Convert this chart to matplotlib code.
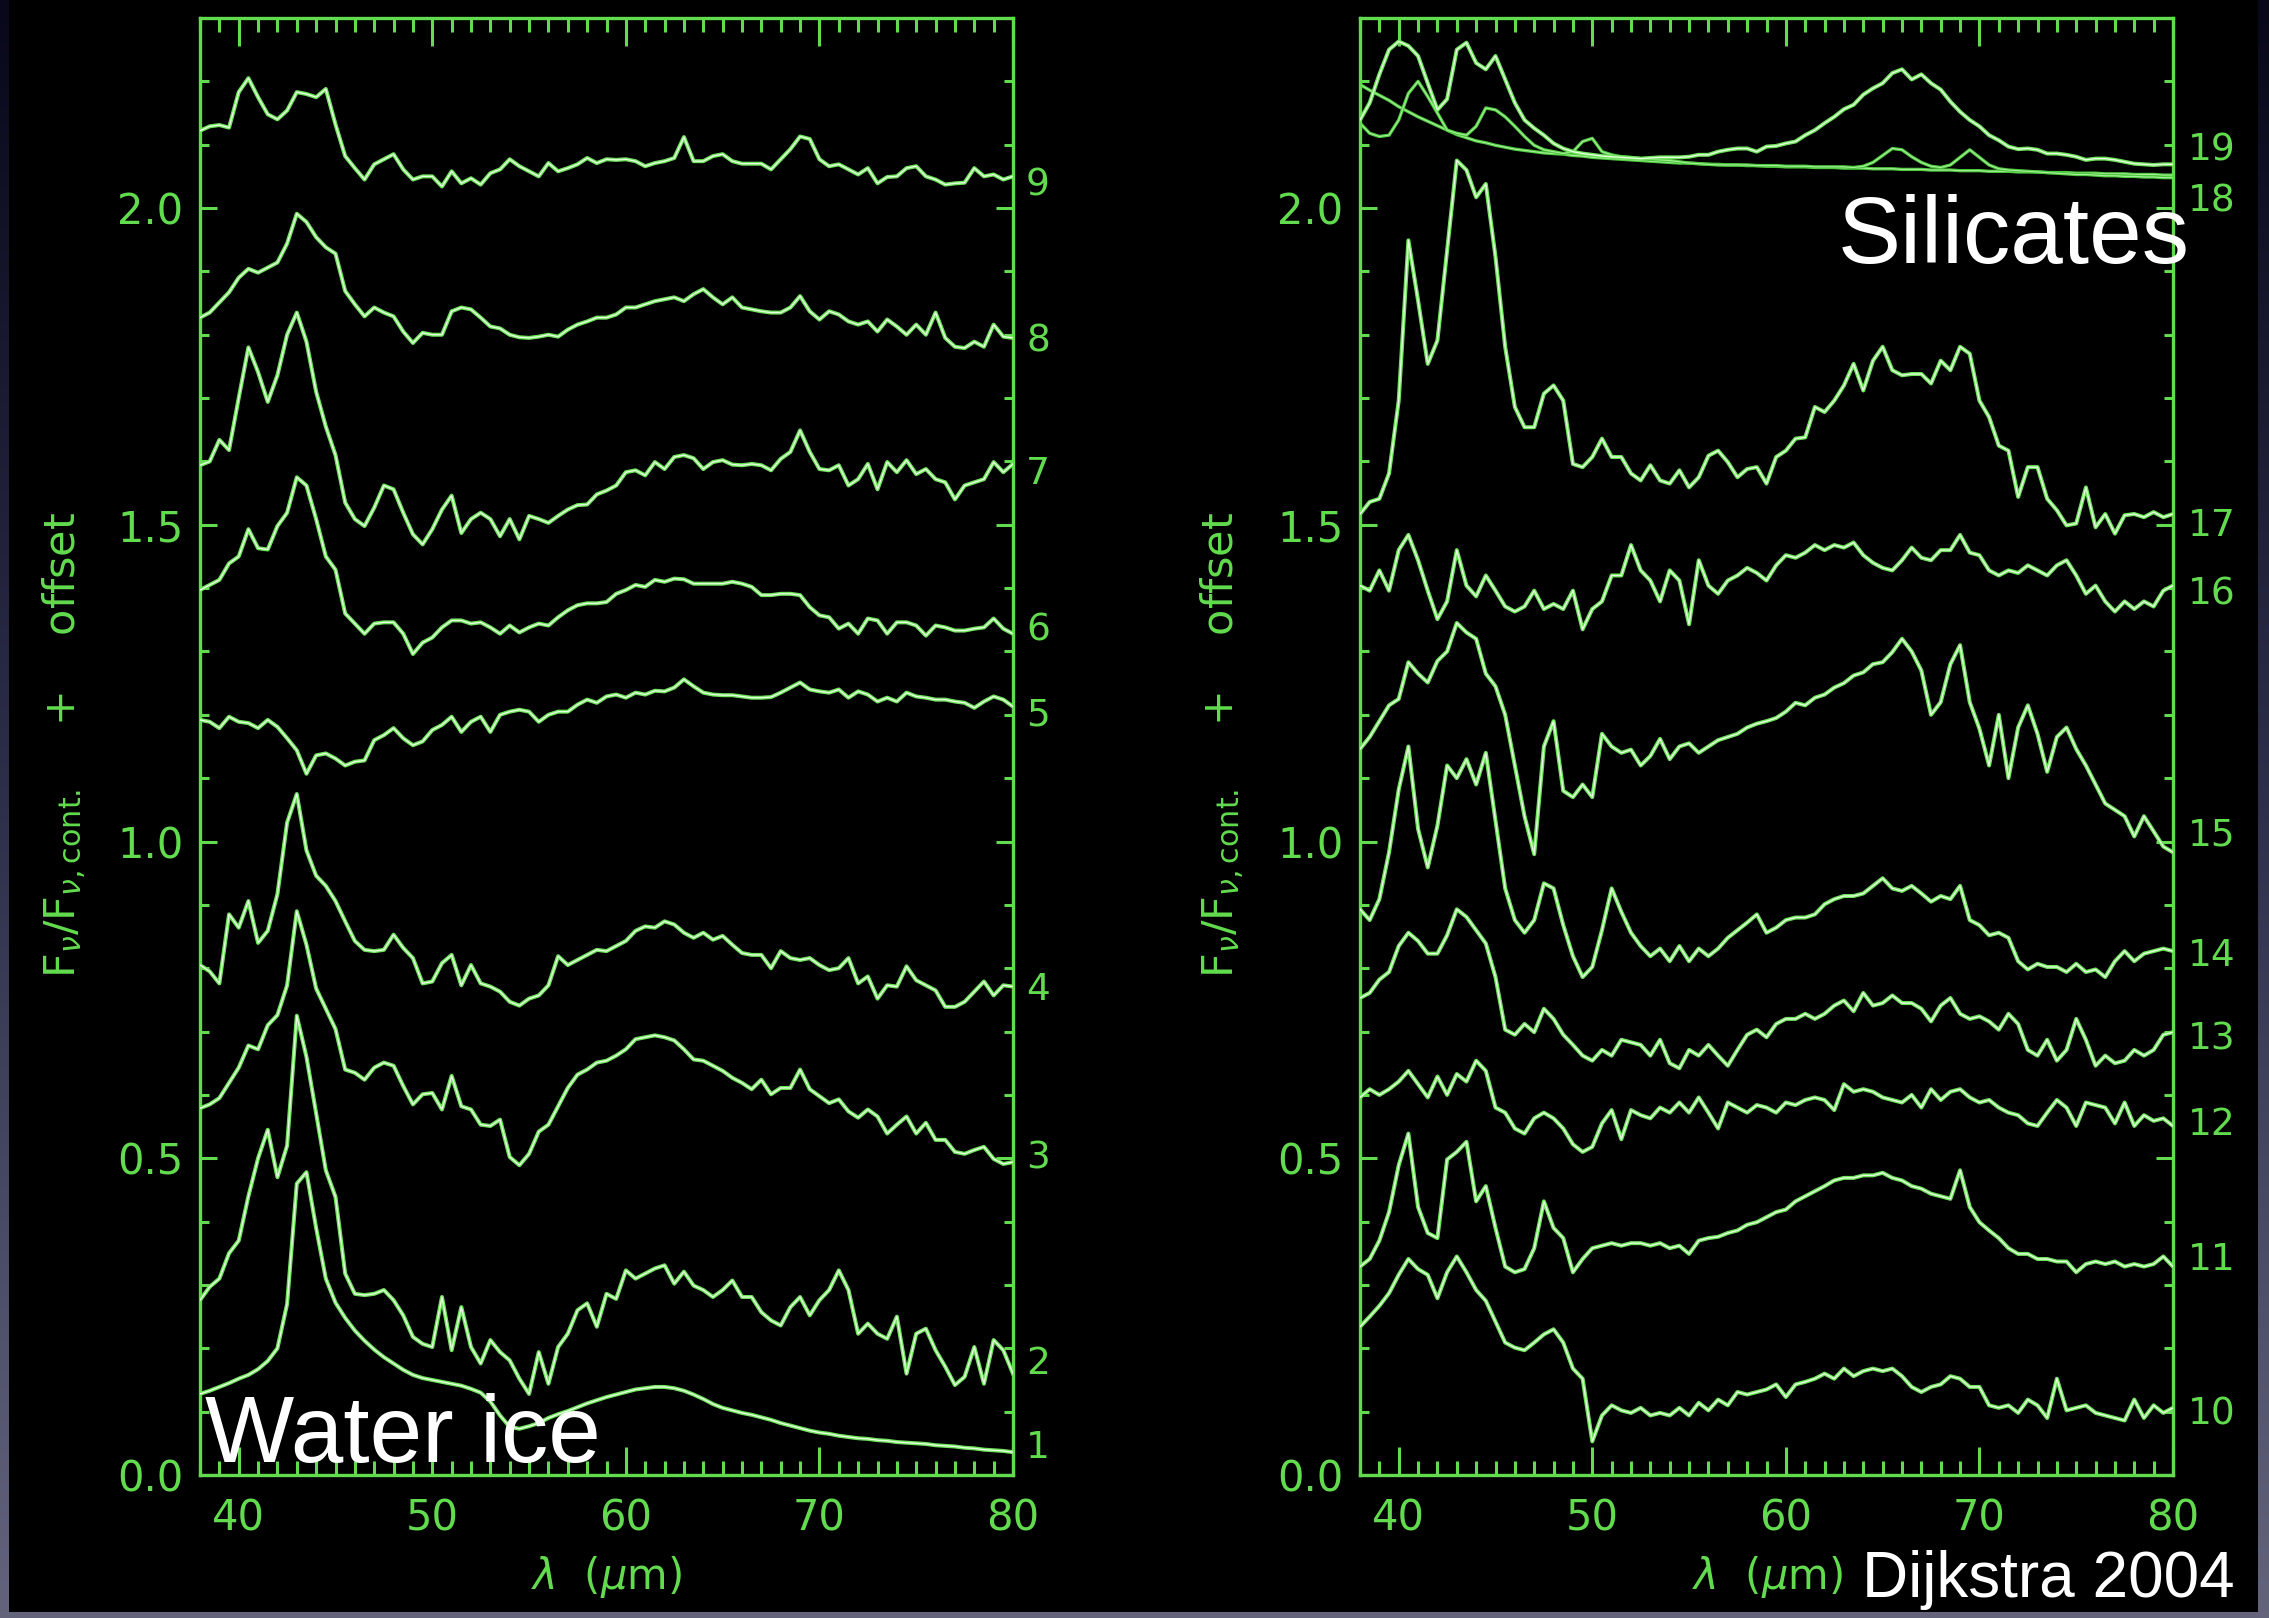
import numpy as np
import matplotlib
matplotlib.use("Agg")
import matplotlib.pyplot as plt
from matplotlib.patches import Rectangle
from matplotlib.colors import LinearSegmentedColormap
from matplotlib.ticker import MultipleLocator, FormatStrFormatter
import matplotlib.transforms as mtransforms

# wavelength sampling (micron), 38 .. 80 in 0.5 steps
wave = np.arange(38.0, 80.01, 0.5)

# ---- left panel: spectra 1-9 ----
spec1 = [0.128, 0.133, 0.139, 0.145, 0.152, 0.158, 0.167, 0.180, 0.200, 0.270,
         0.460, 0.478, 0.390, 0.310, 0.272, 0.248, 0.228, 0.212, 0.198, 0.186,
         0.176, 0.166, 0.158, 0.153, 0.150, 0.147, 0.144, 0.141, 0.136, 0.130,
         0.116, 0.094, 0.076, 0.073, 0.077, 0.082, 0.090, 0.096, 0.101, 0.107,
         0.113, 0.118, 0.123, 0.127, 0.131, 0.135, 0.137, 0.139, 0.139, 0.137,
         0.133, 0.127, 0.120, 0.112, 0.106, 0.102, 0.098, 0.095, 0.091, 0.087,
         0.082, 0.078, 0.074, 0.070, 0.067, 0.065, 0.062, 0.060, 0.058, 0.057,
         0.055, 0.054, 0.052, 0.051, 0.050, 0.049, 0.047, 0.046, 0.045, 0.043,
         0.042, 0.040, 0.039, 0.038, 0.036]
spec2 = [0.276, 0.297, 0.310, 0.350, 0.370, 0.440, 0.500, 0.545, 0.470, 0.520,
         0.725, 0.660, 0.571, 0.481, 0.439, 0.318, 0.286, 0.284, 0.286, 0.292,
         0.276, 0.252, 0.218, 0.207, 0.202, 0.281, 0.197, 0.265, 0.202, 0.176,
         0.213, 0.194, 0.181, 0.152, 0.128, 0.194, 0.144, 0.202, 0.223, 0.260,
         0.271, 0.234, 0.286, 0.278, 0.323, 0.310, 0.318, 0.326, 0.331, 0.302,
         0.321, 0.299, 0.292, 0.281, 0.292, 0.307, 0.281, 0.281, 0.257, 0.244,
         0.236, 0.265, 0.281, 0.252, 0.276, 0.292, 0.323, 0.292, 0.223, 0.239,
         0.223, 0.215, 0.250, 0.160, 0.223, 0.231, 0.197, 0.171, 0.142, 0.155,
         0.202, 0.144, 0.213, 0.197, 0.160]
spec3 = [0.579, 0.585, 0.595, 0.619, 0.643, 0.678, 0.672, 0.710, 0.726, 0.773,
         0.890, 0.837, 0.768, 0.736, 0.704, 0.640, 0.635, 0.624, 0.643, 0.651,
         0.646, 0.614, 0.585, 0.601, 0.603, 0.577, 0.630, 0.582, 0.577, 0.553,
         0.551, 0.561, 0.502, 0.489, 0.507, 0.542, 0.553, 0.582, 0.611, 0.632,
         0.640, 0.651, 0.654, 0.662, 0.672, 0.688, 0.691, 0.694, 0.691, 0.686,
         0.672, 0.656, 0.654, 0.646, 0.638, 0.627, 0.619, 0.609, 0.624, 0.601,
         0.611, 0.611, 0.640, 0.609, 0.598, 0.587, 0.593, 0.574, 0.564, 0.577,
         0.566, 0.539, 0.553, 0.566, 0.539, 0.556, 0.529, 0.529, 0.510, 0.507,
         0.513, 0.518, 0.499, 0.491, 0.494]
spec4 = [0.805, 0.795, 0.776, 0.885, 0.864, 0.906, 0.840, 0.859, 0.917, 1.030,
         1.075, 0.986, 0.946, 0.930, 0.906, 0.874, 0.843, 0.829, 0.827, 0.829,
         0.853, 0.832, 0.816, 0.776, 0.779, 0.808, 0.821, 0.773, 0.805, 0.776,
         0.771, 0.763, 0.747, 0.741, 0.752, 0.757, 0.773, 0.819, 0.805, 0.813,
         0.821, 0.829, 0.827, 0.835, 0.843, 0.859, 0.866, 0.864, 0.874, 0.869,
         0.856, 0.848, 0.856, 0.845, 0.851, 0.837, 0.824, 0.821, 0.821, 0.800,
         0.827, 0.816, 0.813, 0.816, 0.805, 0.797, 0.800, 0.816, 0.776, 0.787,
         0.752, 0.773, 0.771, 0.803, 0.781, 0.773, 0.765, 0.739, 0.739, 0.747,
         0.763, 0.779, 0.757, 0.773, 0.771]
spec5 = [1.192, 1.189, 1.179, 1.197, 1.189, 1.187, 1.179, 1.192, 1.181, 1.163,
         1.144, 1.107, 1.136, 1.139, 1.131, 1.120, 1.126, 1.128, 1.160, 1.168,
         1.179, 1.163, 1.152, 1.158, 1.176, 1.184, 1.197, 1.173, 1.189, 1.197,
         1.173, 1.200, 1.205, 1.208, 1.205, 1.189, 1.200, 1.205, 1.205, 1.216,
         1.224, 1.219, 1.229, 1.232, 1.227, 1.235, 1.232, 1.238, 1.237, 1.243,
         1.256, 1.245, 1.235, 1.232, 1.231, 1.231, 1.229, 1.227, 1.227, 1.228,
         1.235, 1.243, 1.251, 1.240, 1.237, 1.235, 1.240, 1.227, 1.237, 1.232,
         1.221, 1.227, 1.221, 1.235, 1.229, 1.227, 1.224, 1.224, 1.221, 1.219,
         1.211, 1.221, 1.229, 1.224, 1.213]
spec6 = [1.397, 1.405, 1.413, 1.439, 1.450, 1.493, 1.463, 1.461, 1.498, 1.519,
         1.575, 1.562, 1.509, 1.450, 1.429, 1.360, 1.344, 1.328, 1.344, 1.346,
         1.346, 1.328, 1.296, 1.314, 1.322, 1.338, 1.349, 1.349, 1.344, 1.346,
         1.338, 1.328, 1.341, 1.330, 1.338, 1.344, 1.341, 1.354, 1.365, 1.373,
         1.376, 1.376, 1.378, 1.391, 1.397, 1.405, 1.402, 1.413, 1.410, 1.415,
         1.414, 1.407, 1.407, 1.407, 1.407, 1.410, 1.407, 1.402, 1.389, 1.389,
         1.391, 1.391, 1.389, 1.370, 1.357, 1.354, 1.336, 1.344, 1.328, 1.352,
         1.349, 1.328, 1.346, 1.346, 1.341, 1.325, 1.341, 1.338, 1.333, 1.333,
         1.336, 1.338, 1.352, 1.336, 1.328]
spec7 = [1.594, 1.600, 1.634, 1.618, 1.700, 1.780, 1.741, 1.694, 1.736, 1.800,
         1.835, 1.789, 1.710, 1.655, 1.610, 1.535, 1.509, 1.498, 1.527, 1.562,
         1.556, 1.519, 1.485, 1.469, 1.493, 1.524, 1.546, 1.487, 1.509, 1.519,
         1.509, 1.482, 1.509, 1.477, 1.514, 1.509, 1.503, 1.514, 1.524, 1.531,
         1.532, 1.548, 1.554, 1.562, 1.583, 1.586, 1.578, 1.599, 1.588, 1.607,
         1.610, 1.605, 1.588, 1.599, 1.602, 1.595, 1.594, 1.596, 1.594, 1.586,
         1.604, 1.615, 1.649, 1.615, 1.588, 1.586, 1.594, 1.562, 1.572, 1.596,
         1.556, 1.599, 1.583, 1.602, 1.580, 1.588, 1.572, 1.567, 1.540, 1.562,
         1.567, 1.572, 1.599, 1.583, 1.596]
spec8 = [1.827, 1.835, 1.851, 1.867, 1.890, 1.904, 1.898, 1.906, 1.914, 1.944,
         1.991, 1.978, 1.954, 1.938, 1.928, 1.869, 1.848, 1.829, 1.843, 1.835,
         1.829, 1.805, 1.787, 1.803, 1.800, 1.800, 1.837, 1.843, 1.840, 1.827,
         1.813, 1.810, 1.800, 1.796, 1.795, 1.797, 1.800, 1.797, 1.808, 1.816,
         1.821, 1.827, 1.827, 1.832, 1.843, 1.843, 1.848, 1.853, 1.856, 1.859,
         1.853, 1.864, 1.872, 1.859, 1.848, 1.859, 1.843, 1.840, 1.837, 1.835,
         1.835, 1.843, 1.861, 1.837, 1.824, 1.837, 1.832, 1.821, 1.816, 1.821,
         1.805, 1.824, 1.813, 1.800, 1.816, 1.800, 1.835, 1.795, 1.781, 1.779,
         1.789, 1.781, 1.816, 1.797, 1.795]
spec9 = [2.122, 2.129, 2.131, 2.127, 2.183, 2.205, 2.175, 2.148, 2.140, 2.154,
         2.183, 2.180, 2.175, 2.188, 2.132, 2.082, 2.063, 2.045, 2.069, 2.077,
         2.085, 2.061, 2.045, 2.050, 2.050, 2.034, 2.058, 2.039, 2.047, 2.037,
         2.055, 2.061, 2.077, 2.066, 2.058, 2.050, 2.071, 2.058, 2.063, 2.069,
         2.079, 2.071, 2.077, 2.076, 2.077, 2.074, 2.066, 2.071, 2.074, 2.079,
         2.112, 2.074, 2.074, 2.082, 2.085, 2.074, 2.070, 2.070, 2.070, 2.061,
         2.077, 2.093, 2.113, 2.109, 2.077, 2.066, 2.069, 2.061, 2.053, 2.063,
         2.039, 2.049, 2.050, 2.063, 2.066, 2.050, 2.045, 2.037, 2.039, 2.040,
         2.063, 2.050, 2.053, 2.045, 2.050]

# ---- right panel: spectra 10-19 and the silicate continuum ----
spec10 = [0.234, 0.250, 0.267, 0.287, 0.316, 0.341, 0.325, 0.316, 0.279, 0.320,
          0.345, 0.320, 0.292, 0.275, 0.242, 0.209, 0.201, 0.197, 0.209, 0.222,
          0.230, 0.209, 0.168, 0.152, 0.053, 0.094, 0.110, 0.102, 0.098, 0.106,
          0.094, 0.098, 0.094, 0.106, 0.094, 0.114, 0.102, 0.119, 0.110, 0.131,
          0.127, 0.131, 0.135, 0.143, 0.123, 0.143, 0.147, 0.152, 0.160, 0.152,
          0.168, 0.156, 0.164, 0.168, 0.164, 0.168, 0.156, 0.139, 0.131, 0.139,
          0.143, 0.156, 0.152, 0.139, 0.139, 0.110, 0.106, 0.110, 0.098, 0.119,
          0.110, 0.090, 0.152, 0.102, 0.106, 0.110, 0.098, 0.094, 0.090, 0.086,
          0.119, 0.090, 0.110, 0.098, 0.106]
spec11 = [0.329, 0.341, 0.370, 0.415, 0.489, 0.539, 0.423, 0.382, 0.374, 0.498,
          0.510, 0.526, 0.432, 0.456, 0.390, 0.329, 0.320, 0.325, 0.358, 0.432,
          0.390, 0.374, 0.320, 0.341, 0.358, 0.362, 0.366, 0.362, 0.366, 0.366,
          0.362, 0.366, 0.358, 0.362, 0.349, 0.370, 0.374, 0.376, 0.382, 0.386,
          0.395, 0.399, 0.407, 0.415, 0.419, 0.432, 0.440, 0.448, 0.456, 0.465,
          0.469, 0.469, 0.473, 0.473, 0.477, 0.469, 0.465, 0.456, 0.452, 0.444,
          0.440, 0.436, 0.481, 0.423, 0.399, 0.386, 0.374, 0.358, 0.349, 0.349,
          0.341, 0.341, 0.337, 0.337, 0.320, 0.333, 0.337, 0.333, 0.337, 0.329,
          0.333, 0.329, 0.333, 0.345, 0.329]
spec12 = [0.596, 0.609, 0.600, 0.609, 0.621, 0.638, 0.617, 0.596, 0.629, 0.600,
          0.633, 0.621, 0.654, 0.638, 0.580, 0.572, 0.547, 0.539, 0.563, 0.572,
          0.563, 0.547, 0.522, 0.510, 0.518, 0.555, 0.576, 0.530, 0.576, 0.568,
          0.563, 0.580, 0.572, 0.588, 0.572, 0.596, 0.572, 0.547, 0.588, 0.580,
          0.572, 0.584, 0.580, 0.572, 0.588, 0.584, 0.592, 0.596, 0.592, 0.576,
          0.617, 0.605, 0.609, 0.605, 0.596, 0.592, 0.588, 0.600, 0.580, 0.609,
          0.592, 0.605, 0.609, 0.596, 0.588, 0.592, 0.580, 0.572, 0.568, 0.555,
          0.551, 0.572, 0.592, 0.580, 0.551, 0.588, 0.584, 0.580, 0.555, 0.588,
          0.551, 0.568, 0.559, 0.563, 0.551]
spec13 = [0.753, 0.761, 0.782, 0.794, 0.835, 0.856, 0.843, 0.823, 0.823, 0.852,
          0.893, 0.881, 0.860, 0.839, 0.786, 0.703, 0.695, 0.712, 0.699, 0.736,
          0.720, 0.695, 0.679, 0.662, 0.654, 0.671, 0.662, 0.687, 0.683, 0.679,
          0.662, 0.687, 0.650, 0.642, 0.671, 0.662, 0.679, 0.662, 0.646, 0.671,
          0.695, 0.703, 0.691, 0.712, 0.720, 0.720, 0.728, 0.720, 0.728, 0.741,
          0.749, 0.732, 0.761, 0.741, 0.745, 0.757, 0.745, 0.745, 0.736, 0.716,
          0.741, 0.753, 0.728, 0.720, 0.724, 0.716, 0.703, 0.728, 0.712, 0.671,
          0.662, 0.687, 0.654, 0.671, 0.720, 0.687, 0.646, 0.662, 0.650, 0.654,
          0.671, 0.662, 0.671, 0.695, 0.699]
spec14 = [0.893, 0.876, 0.909, 0.983, 1.082, 1.150, 1.020, 0.959, 1.025, 1.120,
          1.100, 1.130, 1.090, 1.140, 1.033, 0.926, 0.876, 0.856, 0.876, 0.934,
          0.926, 0.868, 0.819, 0.786, 0.802, 0.860, 0.926, 0.889, 0.856, 0.835,
          0.819, 0.831, 0.811, 0.835, 0.811, 0.831, 0.819, 0.831, 0.848, 0.860,
          0.872, 0.885, 0.856, 0.864, 0.876, 0.880, 0.880, 0.885, 0.901, 0.909,
          0.914, 0.914, 0.918, 0.930, 0.942, 0.926, 0.922, 0.930, 0.918, 0.905,
          0.914, 0.909, 0.930, 0.876, 0.868, 0.852, 0.856, 0.848, 0.811, 0.798,
          0.807, 0.802, 0.802, 0.794, 0.807, 0.794, 0.798, 0.786, 0.811, 0.827,
          0.811, 0.823, 0.827, 0.831, 0.827]
spec15 = [1.146, 1.165, 1.190, 1.215, 1.225, 1.283, 1.265, 1.251, 1.285, 1.300,
          1.345, 1.330, 1.320, 1.265, 1.245, 1.200, 1.120, 1.040, 0.980, 1.150,
          1.190, 1.080, 1.070, 1.090, 1.070, 1.170, 1.150, 1.140, 1.145, 1.120,
          1.135, 1.162, 1.130, 1.150, 1.155, 1.140, 1.150, 1.160, 1.165, 1.170,
          1.180, 1.186, 1.190, 1.195, 1.205, 1.219, 1.215, 1.227, 1.232, 1.243,
          1.250, 1.262, 1.267, 1.280, 1.283, 1.299, 1.320, 1.300, 1.270, 1.200,
          1.220, 1.280, 1.310, 1.220, 1.178, 1.120, 1.200, 1.100, 1.180, 1.215,
          1.170, 1.110, 1.165, 1.180, 1.146, 1.120, 1.090, 1.060, 1.050, 1.040,
          1.008, 1.040, 1.016, 0.992, 0.983]
spec16 = [1.404, 1.396, 1.428, 1.396, 1.460, 1.484, 1.444, 1.396, 1.351, 1.379,
          1.460, 1.404, 1.387, 1.420, 1.396, 1.371, 1.363, 1.371, 1.396, 1.367,
          1.375, 1.367, 1.396, 1.335, 1.367, 1.379, 1.420, 1.420, 1.468, 1.428,
          1.412, 1.379, 1.428, 1.412, 1.343, 1.444, 1.404, 1.391, 1.412, 1.420,
          1.432, 1.424, 1.412, 1.436, 1.452, 1.448, 1.456, 1.468, 1.460, 1.468,
          1.464, 1.472, 1.452, 1.440, 1.432, 1.428, 1.444, 1.464, 1.448, 1.444,
          1.460, 1.460, 1.484, 1.456, 1.452, 1.428, 1.420, 1.428, 1.424, 1.436,
          1.428, 1.420, 1.436, 1.444, 1.420, 1.391, 1.404, 1.379, 1.363, 1.379,
          1.367, 1.379, 1.371, 1.396, 1.404]
spec17 = [1.517, 1.536, 1.541, 1.581, 1.696, 1.949, 1.854, 1.754, 1.791, 1.933,
          2.075, 2.060, 2.017, 2.038, 1.923, 1.781, 1.686, 1.654, 1.654, 1.707,
          1.720, 1.696, 1.596, 1.591, 1.607, 1.636, 1.607, 1.607, 1.581, 1.570,
          1.594, 1.570, 1.565, 1.586, 1.559, 1.575, 1.609, 1.617, 1.599, 1.575,
          1.588, 1.591, 1.565, 1.607, 1.617, 1.636, 1.638, 1.686, 1.678, 1.696,
          1.720, 1.754, 1.712, 1.759, 1.781, 1.744, 1.736, 1.738, 1.738, 1.723,
          1.759, 1.744, 1.781, 1.770, 1.696, 1.670, 1.625, 1.617, 1.544, 1.591,
          1.591, 1.541, 1.523, 1.499, 1.502, 1.559, 1.496, 1.517, 1.486, 1.515,
          1.517, 1.512, 1.520, 1.512, 1.517]
spec18 = [2.134, 2.118, 2.113, 2.115, 2.139, 2.181, 2.200, 2.176, 2.150, 2.123,
          2.118, 2.115, 2.129, 2.158, 2.155, 2.144, 2.129, 2.113, 2.099, 2.092,
          2.089, 2.086, 2.089, 2.105, 2.110, 2.089, 2.084, 2.081, 2.080, 2.078,
          2.077, 2.076, 2.075, 2.073, 2.071, 2.070, 2.069, 2.068, 2.068, 2.068,
          2.068, 2.067, 2.067, 2.067, 2.066, 2.066, 2.066, 2.065, 2.065, 2.065,
          2.065, 2.064, 2.066, 2.072, 2.083, 2.094, 2.092, 2.081, 2.072, 2.066,
          2.064, 2.068, 2.080, 2.092, 2.080, 2.068, 2.062, 2.060, 2.059, 2.058,
          2.057, 2.056, 2.055, 2.054, 2.053, 2.053, 2.052, 2.051, 2.051, 2.050,
          2.050, 2.049, 2.049, 2.048, 2.048]
spec19 = [2.139, 2.166, 2.211, 2.250, 2.263, 2.256, 2.240, 2.197, 2.155, 2.172,
          2.250, 2.261, 2.229, 2.219, 2.240, 2.203, 2.166, 2.139, 2.126, 2.115,
          2.102, 2.094, 2.089, 2.086, 2.084, 2.082, 2.081, 2.080, 2.079, 2.078,
          2.079, 2.080, 2.080, 2.080, 2.081, 2.084, 2.084, 2.089, 2.092, 2.094,
          2.094, 2.089, 2.097, 2.098, 2.102, 2.105, 2.115, 2.123, 2.134, 2.144,
          2.156, 2.163, 2.179, 2.189, 2.197, 2.213, 2.219, 2.203, 2.211, 2.197,
          2.187, 2.168, 2.152, 2.139, 2.129, 2.115, 2.107, 2.097, 2.093, 2.094,
          2.092, 2.086, 2.086, 2.084, 2.081, 2.076, 2.078, 2.078, 2.076, 2.073,
          2.070, 2.069, 2.068, 2.069, 2.069]
continuum = [2.195, 2.186, 2.178, 2.170, 2.160, 2.152, 2.144, 2.137, 2.130, 2.123,
             2.116, 2.111, 2.106, 2.103, 2.099, 2.096, 2.093, 2.091, 2.089, 2.087,
             2.086, 2.085, 2.083, 2.082, 2.080, 2.079, 2.078, 2.077, 2.076, 2.075,
             2.074, 2.073, 2.072, 2.071, 2.071, 2.070, 2.069, 2.069, 2.068, 2.068,
             2.067, 2.067, 2.066, 2.066, 2.065, 2.065, 2.065, 2.064, 2.064, 2.064,
             2.063, 2.063, 2.063, 2.062, 2.062, 2.062, 2.061, 2.061, 2.061, 2.060,
             2.060, 2.060, 2.059, 2.059, 2.059, 2.058, 2.058, 2.058, 2.057, 2.057,
             2.057, 2.056, 2.056, 2.056, 2.055, 2.055, 2.055, 2.054, 2.054, 2.054,
             2.053, 2.053, 2.053, 2.052, 2.052]

left_spectra = [spec1, spec2, spec3, spec4, spec5, spec6, spec7, spec8, spec9]
right_spectra = [spec10, spec11, spec12, spec13, spec14, spec15, spec16, spec17, spec19]

# curve numbers written on the right of each panel, and their heights
left_labels = ["1", "2", "3", "4", "5", "6", "7", "8", "9"]
left_label_y = [0.043, 0.176, 0.500, 0.765, 1.199, 1.333, 1.580, 1.790, 2.036]
right_labels = ["10", "11", "12", "13", "14", "15", "16", "17", "18", "19"]
right_label_y = [0.096, 0.340, 0.553, 0.687, 0.820, 1.009, 1.390, 1.498, 2.011, 2.091]

for s in left_spectra + right_spectra + [spec18, continuum]:
    assert len(s) == len(wave)

W, H = 2269, 1618
GREEN = "#62dc4e"
LINE = "#6ee25a"
CORE = "#e6ffe0"

fig = plt.figure(figsize=(W / 100, H / 100), dpi=100)

# slide background: grey-blue gradient showing at the edges, black picture on top
bg = fig.add_axes([0, 0, 1, 1])
bg.axis("off")
grad = np.linspace(0, 1, 256).reshape(-1, 1)
bg.imshow(grad, cmap=LinearSegmentedColormap.from_list("bg", ["#08081a", "#2e2f4a", "#63647c"]),
          aspect="auto", extent=[0, 1, 0, 1], origin="upper")
bg.add_patch(Rectangle((9 / W, 6 / H), (2258 - 9) / W, 1 - 6 / H, color="black", lw=0))
bg.set_xlim(0, 1)
bg.set_ylim(0, 1)


def make_panel(left):
    ax = fig.add_axes([left / W, 1 - 1475 / H, 813 / W, 1457 / H])
    ax.set_facecolor("none")
    ax.set_xlim(38, 80)
    ax.set_ylim(0, 2.3)
    for sp in ax.spines.values():
        sp.set_color(GREEN)
        sp.set_linewidth(2.4)
    ax.xaxis.set_major_locator(MultipleLocator(10))
    ax.xaxis.set_minor_locator(MultipleLocator(1))
    ax.yaxis.set_major_locator(MultipleLocator(0.5))
    ax.yaxis.set_minor_locator(MultipleLocator(0.1))
    ax.yaxis.set_major_formatter(FormatStrFormatter("%.1f"))
    ax.tick_params(axis="both", which="both", direction="in", colors=GREEN,
                   labelcolor=GREEN, width=2.2, top=True, right=True, labelsize=30)
    ax.tick_params(axis="x", which="major", length=20, pad=16)
    ax.tick_params(axis="x", which="minor", length=10)
    ax.tick_params(axis="y", which="major", length=12, pad=12)
    ax.tick_params(axis="y", which="minor", length=6.5)
    return ax


def draw(ax, y, dim=False):
    if dim:
        ax.plot(wave, y, color="#4cc83c", lw=2.4, zorder=2)
        ax.plot(wave, y, color="#a8f09a", lw=0.8, zorder=2)
    else:
        ax.plot(wave, y, color=LINE, lw=2.9, zorder=3)
        ax.plot(wave, y, color=CORE, lw=1.0, zorder=3)


def numbers(ax, labels, ys, dx):
    tr = mtransforms.blended_transform_factory(ax.transAxes, ax.transData)
    for lab, yv in zip(labels, ys):
        ax.text(1 + dx, yv, lab, transform=tr, color=GREEN, fontsize=27,
                ha="left", va="center", clip_on=False)


ax1 = make_panel(200)
for s in left_spectra:
    draw(ax1, s)
numbers(ax1, left_labels, left_label_y, 0.016)

ax2 = make_panel(1360)
draw(ax2, continuum, dim=True)
draw(ax2, spec18, dim=True)
for s in right_spectra:
    draw(ax2, s)
numbers(ax2, right_labels, right_label_y, 0.018)

ylab = r"F$_{\nu}$/F$_{\nu,\mathrm{cont.}}$    +    offset"
for cx in (65, 1223):
    fig.text(cx / W, 1 - 745 / H, ylab, rotation=90, color=GREEN, fontsize=31,
             ha="center", va="center")
for cx in (606, 1767):
    fig.text(cx / W, 1 - 1577 / H, r"$\lambda$  ($\mu$m)", color=GREEN, fontsize=30,
             ha="center", va="center")

big = dict(color="white", family=["Liberation Sans", "DejaVu Sans"], ha="left", va="baseline", zorder=10)
fig.text(205 / W, 1 - 1462 / H, "Water ice", fontsize=68, **big)
fig.text(1838 / W, 1 - 263 / H, "Silicates", fontsize=68, **big)
fig.text(1862 / W, 1 - 1597 / H, "Dijkstra 2004", fontsize=46, **big)

fig.savefig("out.png", dpi=100, facecolor="black")
